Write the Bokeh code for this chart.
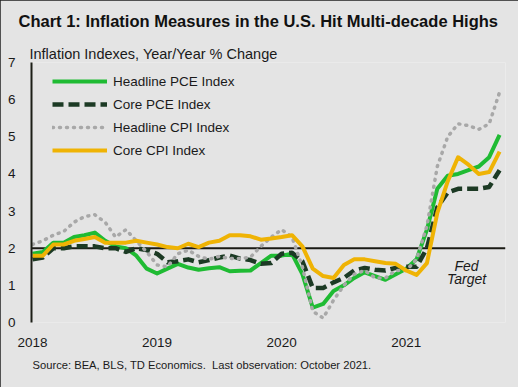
from bokeh.plotting import figure
from bokeh.models import Range1d, FixedTicker, Span, Label, Legend, LegendItem, Title
from bokeh.embed import file_html
from bokeh.resources import INLINE

# ---- data (Y/Y % change, monthly Jan 2018 .. Oct 2021) ----
headline_pce = [1.85, 1.9, 2.15, 2.15, 2.3, 2.35, 2.42, 2.2, 2.05, 2.0, 1.8, 1.45,
                1.32, 1.45, 1.58, 1.48, 1.42, 1.46, 1.49, 1.38, 1.39, 1.4, 1.6, 1.8,
                1.8, 1.85, 1.3, 0.4, 0.5, 0.85, 1.0, 1.2, 1.35, 1.25, 1.15, 1.3,
                1.45, 1.7, 2.5, 3.6, 3.95, 4.0, 4.1, 4.2, 4.45, 5.05]
core_pce = [1.7, 1.75, 2.0, 2.0, 2.05, 2.05, 2.05, 2.0, 2.0, 1.9, 2.0, 1.95,
            1.85, 1.62, 1.65, 1.7, 1.62, 1.68, 1.75, 1.8, 1.72, 1.68, 1.58, 1.6,
            1.85, 1.88, 1.65, 0.93, 0.93, 1.08, 1.2, 1.4, 1.47, 1.42, 1.4, 1.47,
            1.5, 1.5, 2.0, 3.1, 3.5, 3.6, 3.6, 3.6, 3.65, 4.1]
headline_cpi = [2.1, 2.2, 2.35, 2.45, 2.7, 2.85, 2.9, 2.7, 2.3, 2.5, 2.2, 1.9,
                1.55, 1.5, 1.85, 1.95, 1.78, 1.7, 1.78, 1.72, 1.72, 1.76, 2.05, 2.3,
                2.5, 2.3, 1.5, 0.3, 0.12, 0.6, 1.0, 1.3, 1.4, 1.2, 1.2, 1.4,
                1.4, 1.7, 2.6, 4.2, 5.0, 5.35, 5.3, 5.2, 5.35, 6.2]
core_cpi = [1.8, 1.8, 2.1, 2.1, 2.2, 2.25, 2.3, 2.15, 2.15, 2.15, 2.2, 2.15,
            2.1, 2.03, 2.0, 2.12, 2.03, 2.15, 2.2, 2.35, 2.35, 2.32, 2.23, 2.26,
            2.3, 2.35, 2.05, 1.45, 1.25, 1.2, 1.55, 1.7, 1.7, 1.65, 1.6, 1.58,
            1.4, 1.28, 1.6, 2.95, 3.8, 4.45, 4.25, 4.0, 4.05, 4.6]
series_names = ["Headline PCE Index", "Core PCE Index", "Headline CPI Index", "Core CPI Index"]
year_labels = ["2018", "2019", "2020", "2021"]
year_start_index = [0, 12, 24, 36]
y_ticks = [0, 1, 2, 3, 4, 5, 6, 7]
fed_target = 2.0

months = list(range(len(headline_pce)))

BG = "#e4e4e4"
TXT = "#1a1a1a"
FONT = "Liberation Sans"
GREEN = "#1fbb33"
DKGREEN = "#1c3a24"
GRAY = "#a8a8a8"
GOLD = "#efb304"

p = figure(width=518, height=387, output_backend="svg", toolbar_location=None, title=None,
           x_range=Range1d(-0.1, 45.57), y_range=Range1d(0, 7),
           min_border_left=31, min_border_right=13, min_border_top=0, min_border_bottom=65,
           background_fill_color=BG, border_fill_color=BG, outline_line_color=None)
p.styles = {"outline": "1px solid #202020", "outline-offset": "-1px"}

p.xgrid.visible = False
p.ygrid.visible = False

# y axis
p.yaxis.ticker = FixedTicker(ticks=y_ticks)
p.yaxis.axis_line_color = "#1c1e16"
p.yaxis.axis_line_width = 2
p.yaxis.major_tick_line_color = None
p.yaxis.minor_tick_line_color = None
p.yaxis.major_label_standoff = 10
p.yaxis.major_label_text_font = FONT
p.yaxis.major_label_text_font_size = "13.5px"
p.yaxis.major_label_text_color = TXT

# x axis
p.xaxis.ticker = FixedTicker(ticks=year_start_index)
p.xaxis.major_label_overrides = {i: lab for i, lab in zip(year_start_index, year_labels)}
p.xaxis.axis_line_color = None
p.xaxis.major_tick_line_color = None
p.xaxis.minor_tick_line_color = None
p.xaxis.major_label_standoff = 9
p.xaxis.major_label_text_font = FONT
p.xaxis.major_label_text_font_size = "13.5px"
p.xaxis.major_label_text_color = TXT

# titles (inner first)
p.add_layout(Title(text="Inflation Indexes, Year/Year % Change", align="left", offset=-2,
                   text_font=FONT, text_font_size="14.5px", text_font_style="normal",
                   text_color=TXT, standoff=1, vertical_align="bottom"), "above")
p.add_layout(Title(text="Chart 1: Inflation Measures in the U.S. Hit Multi-decade Highs",
                   align="left", offset=-13, text_font=FONT, text_font_size="16.5px",
                   text_font_style="bold", text_color="#111111", standoff=23,
                   vertical_align="top"), "above")
p.add_layout(Title(text="Source: BEA, BLS, TD Economics.\u00a0 Last observation: October 2021.",
                   align="left", offset=1, text_font=FONT, text_font_size="11.2px",
                   text_font_style="normal", text_color=TXT, standoff=18,
                   vertical_align="top"), "below")

# Fed target line
p.add_layout(Span(location=fed_target, dimension="width", line_color="#1a1a14",
                  line_width=2, level="underlay"))

r1 = p.line(months, headline_pce, line_color=GREEN, line_width=4, line_join="round")
r2 = p.line(months, core_pce, line_color=DKGREEN, line_width=4.5, line_dash="11 5", line_join="round")
r3 = p.line(months, headline_cpi, line_color=GRAY, line_width=3.5, line_dash="1 6",
            line_cap="round", line_join="round")
r4 = p.line(months, core_cpi, line_color=GOLD, line_width=4, line_join="round")

legend = Legend(items=[LegendItem(label=n, renderers=[r]) for n, r in zip(series_names, [r1, r2, r3, r4])],
                location=(21, 161), orientation="vertical", padding=0, margin=0, spacing=1,
                glyph_width=55, glyph_height=22, label_height=22, label_standoff=6,
                border_line_color=None, background_fill_alpha=0,
                label_text_font=FONT, label_text_font_size="13.5px", label_text_color=TXT)
p.add_layout(legend)

for txt, yy in [("Fed", 56.7), ("Target", 43.4)]:
    p.add_layout(Label(x=435, y=yy, x_units="screen", y_units="screen", text=txt,
                       text_font=FONT, text_font_size="14px", text_font_style="italic",
                       text_color=TXT, text_align="center", text_baseline="alphabetic"))

open("out.html", "w").write(file_html(p, INLINE))
